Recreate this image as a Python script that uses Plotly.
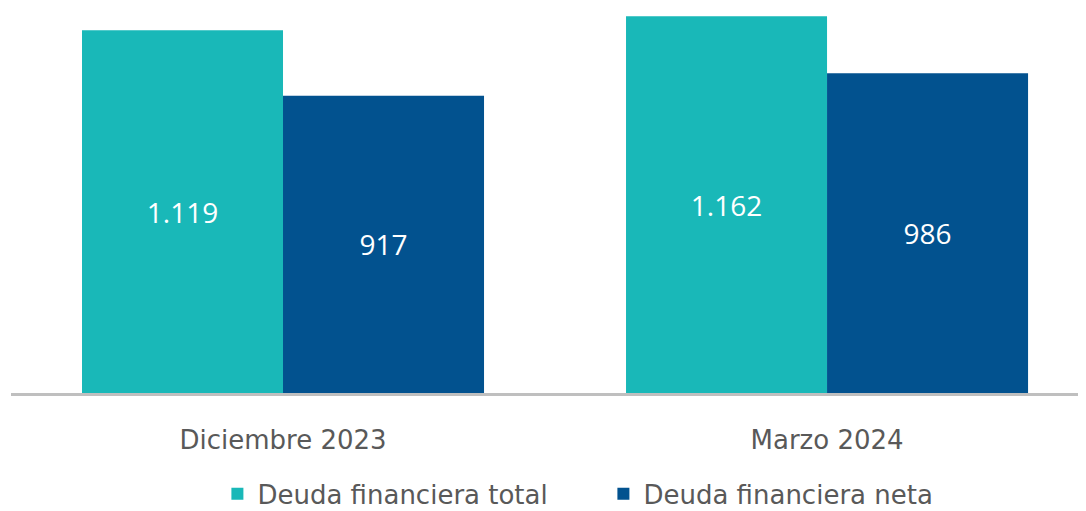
import plotly.graph_objects as go

periodos = ["Diciembre 2023", "Marzo 2024"]
deuda_total = [1119, 1162]
deuda_neta = [917, 986]

FONT = "DejaVu Sans"
FONT_NUM = "Open Sans"
GRIS = "#595959"

fig = go.Figure()

fig.add_bar(x=periodos, y=deuda_total, name="Deuda financiera total",
            marker=dict(color="#19B8B8", line=dict(width=0)),
            texttemplate="%{y:,}", textposition="inside",
            insidetextanchor="middle",
            textfont=dict(color="white", size=28, family=FONT_NUM))

fig.add_bar(x=periodos, y=deuda_neta, name="Deuda financiera neta",
            marker=dict(color="#02528F", line=dict(width=0)),
            texttemplate="%{y:,}", textposition="inside",
            insidetextanchor="middle",
            textfont=dict(color="white", size=28, family=FONT_NUM))

# the page body adds 8px around the figure, so the figure is 8px smaller
fig.update_layout(
    width=1078, height=503,
    margin=dict(l=3, r=0, t=0, b=118, autoexpand=False),
    paper_bgcolor="white", plot_bgcolor="white",
    separators=",.",
    barmode="group", bargap=0.261, bargroupgap=0,
    font=dict(family=FONT, color=GRIS, size=26),
    showlegend=True,
    legend=dict(orientation="h", x=0.192, xanchor="left", y=-0.262, yanchor="middle",
                font=dict(size=26, color=GRIS), entrywidth=341,
                itemclick=False, itemdoubleclick=False),
)

fig.update_xaxes(range=[-0.5, 1.476], showline=True, linecolor="#BFBFBF", linewidth=3,
                 ticks="", ticklabelstandoff=22, tickfont=dict(size=26, color=GRIS),
                 showgrid=False, fixedrange=True)
fig.update_yaxes(range=[0, 1187.5], visible=False, showgrid=False, zeroline=False,
                 fixedrange=True)

fig.write_html("out.html")
